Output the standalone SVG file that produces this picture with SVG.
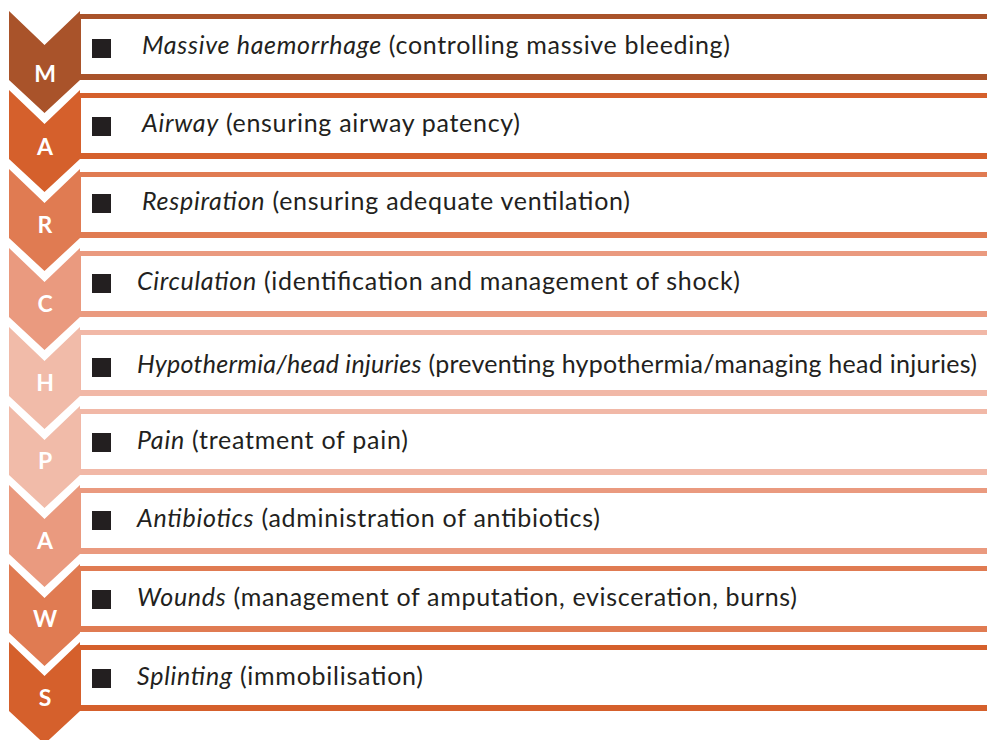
<svg xmlns="http://www.w3.org/2000/svg" width="987" height="740" viewBox="0 0 987 740">
<style>
.t{font-family:Lato,"Open Sans","Liberation Sans",sans-serif;font-size:25px;fill:#231F20}
.i{font-style:italic}
.l{font-family:Lato,"Open Sans","Liberation Sans",sans-serif;font-size:23px;font-weight:bold;fill:#fff;text-anchor:middle}
.w{fill:#fff}
.b{fill:#231F20}
</style>
<defs>
<path id="chev" d="M9,0 L44.5,34 L80,0 L80,69 L44.5,102 L9,69 Z"/>
</defs>
<rect width="987" height="740" fill="#fff"/>
<g id="connectors"></g>
<g id="row-M">
<rect x="78" y="14" width="909" height="66" fill="#A9532A"/><rect class="w" x="81" y="19" width="906" height="55"/>
<use href="#chev" y="11" fill="#A9532A"/>
<text class="l" x="45" y="82">M</text>
<rect class="b" x="92" y="39" width="19" height="19"/>
<text class="t" x="142" y="54" textLength="588" lengthAdjust="spacing"><tspan class="i">Massive haemorrhage</tspan> (controlling massive bleeding)</text>
</g>
<g id="row-A1">
<rect x="78" y="93" width="909" height="66" fill="#D5602C"/><rect class="w" x="81" y="98" width="906" height="55"/>
<use href="#chev" y="90" fill="#D5602C"/>
<text class="l" x="45" y="155">A</text>
<rect class="b" x="92" y="117" width="19" height="19"/>
<text class="t" x="142" y="132" textLength="378" lengthAdjust="spacing"><tspan class="i">Airway</tspan> (ensuring airway patency)</text>
</g>
<g id="row-R">
<rect x="78" y="172" width="909" height="66" fill="#E07B52"/><rect class="w" x="81" y="177" width="906" height="55"/>
<use href="#chev" y="169" fill="#E07B52"/>
<text class="l" x="45" y="233">R</text>
<rect class="b" x="92" y="194" width="19" height="19"/>
<text class="t" x="142" y="210" textLength="488" lengthAdjust="spacing"><tspan class="i">Respiration</tspan> (ensuring adequate ventilation)</text>
</g>
<g id="row-C">
<rect x="78" y="251" width="909" height="66" fill="#EA9A7F"/><rect class="w" x="81" y="256" width="906" height="55"/>
<use href="#chev" y="248" fill="#EA9A7F"/>
<text class="l" x="45" y="312">C</text>
<rect class="b" x="92" y="274" width="19" height="19"/>
<text class="t" x="137" y="290" textLength="603" lengthAdjust="spacing"><tspan class="i">Circulation</tspan> (identification and management of shock)</text>
</g>
<g id="row-H">
<rect x="78" y="330" width="909" height="66" fill="#F1B8A7"/><rect class="w" x="81" y="335" width="906" height="55"/>
<use href="#chev" y="327" fill="#F1BBA9"/>
<text class="l" x="45" y="391">H</text>
<rect class="b" x="92" y="358" width="19" height="19"/>
<text class="t" x="137" y="373" textLength="840" lengthAdjust="spacing"><tspan class="i">Hypothermia/head injuries</tspan> (preventing hypothermia/managing head injuries)</text>
</g>
<g id="row-P">
<rect x="78" y="409" width="909" height="66" fill="#F1B8A7"/><rect class="w" x="81" y="414" width="906" height="55"/>
<use href="#chev" y="406" fill="#F1BBA9"/>
<text class="l" x="45" y="469">P</text>
<rect class="b" x="92" y="433" width="19" height="19"/>
<text class="t" x="137" y="449" textLength="271" lengthAdjust="spacing"><tspan class="i">Pain</tspan> (treatment of pain)</text>
</g>
<g id="row-A2">
<rect x="78" y="488" width="909" height="66" fill="#EA9A7F"/><rect class="w" x="81" y="493" width="906" height="55"/>
<use href="#chev" y="485" fill="#EA9A7F"/>
<text class="l" x="45" y="549">A</text>
<rect class="b" x="92" y="511" width="19" height="19"/>
<text class="t" x="137" y="527" textLength="463" lengthAdjust="spacing"><tspan class="i">Antibiotics</tspan> (administration of antibiotics)</text>
</g>
<g id="row-W">
<rect x="78" y="566" width="909" height="66" fill="#E07B52"/><rect class="w" x="81" y="571" width="906" height="55"/>
<use href="#chev" y="564" fill="#E07B52"/>
<text class="l" x="45" y="627">W</text>
<rect class="b" x="92" y="590" width="19" height="19"/>
<text class="t" x="137" y="606" textLength="660" lengthAdjust="spacing"><tspan class="i">Wounds</tspan> (management of amputation, evisceration, burns)</text>
</g>
<g id="row-S">
<rect x="78" y="645" width="909" height="66" fill="#D5602C"/><rect class="w" x="81" y="650" width="906" height="55"/>
<use href="#chev" y="642" fill="#D5602C"/>
<text class="l" x="45" y="706">S</text>
<rect class="b" x="92" y="669" width="19" height="19"/>
<text class="t" x="137" y="685" textLength="286" lengthAdjust="spacing"><tspan class="i">Splinting</tspan> (immobilisation)</text>
</g>
</svg>
